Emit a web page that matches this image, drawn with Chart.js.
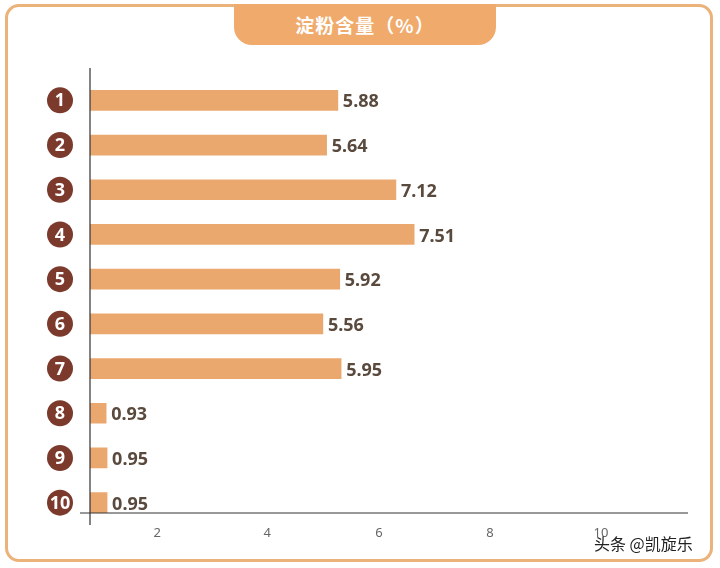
<!DOCTYPE html>
<html><head><meta charset="utf-8">
<script src="https://cdn.jsdelivr.net/npm/chart.js@4"></script>
<style>
body{margin:0;background:#fff;font-family:"Noto Sans CJK SC","Noto Sans",sans-serif;}
#wrap{position:relative;width:720px;height:568px;overflow:hidden;}
#card{position:absolute;left:5px;top:4px;width:702px;height:552px;border:3px solid #ebb27a;border-radius:14px;background:#fff;}
#tab{position:absolute;left:234px;top:4px;width:262px;height:41px;background:#f0aa6c;border-radius:0 0 18px 18px;color:#fff;font-size:19px;font-weight:bold;text-align:center;line-height:41px;letter-spacing:1px;}
#wm{position:absolute;left:594px;top:531px;font-size:16px;color:#222;}
canvas{position:absolute;left:0;top:0;}
</style></head><body>
<div id="wrap"><div id="card"></div><div id="tab">淀粉含量（%）</div>
<canvas id="c" width="720" height="568"></canvas><div id="wm">头条 @凯旋乐</div></div>
<script>
const categories=["1","2","3","4","5","6","7","8","9","10"];
const values=[5.88,5.64,7.12,7.51,5.92,5.56,5.95,0.93,0.95,0.95];
const tickLabels=["2","4","6","8","10"];
const tickPositions=[2.02,4.37,6.76,9.13,11.5];
const deco={id:'deco',afterDraw(ch){const c=ch.ctx,y=ch.scales.y,x=ch.scales.x;
c.save();c.strokeStyle='#333';c.lineWidth=1.2;c.beginPath();c.moveTo(90,68);c.lineTo(90,525);c.moveTo(80,513);c.lineTo(688,513);c.stroke();
c.fillStyle='#666';c.font='13px "Noto Sans"';c.textAlign='center';c.textBaseline='middle';
tickPositions.forEach((v,i)=>c.fillText(tickLabels[i],x.getPixelForValue(v),533));
categories.forEach((k,i)=>{const py=y.getPixelForValue(i);c.fillStyle='#7b3a2c';c.beginPath();c.arc(60,py,13,0,Math.PI*2);c.fill();
c.fillStyle='#fff';c.font='bold 18px "Noto Sans"';c.textAlign='center';c.textBaseline='middle';c.fillText(k,60,py+1);
c.fillStyle='#5a4a3e';c.textAlign='left';c.font='bold 18px "Noto Sans"';c.fillText(values[i].toFixed(2),x.getPixelForValue(values[i])+5,py+2);});
c.restore();}};
new Chart(document.getElementById('c'),{type:'bar',data:{labels:categories,datasets:[{data:values,backgroundColor:'#eba86e',barThickness:20,base:0}]},
options:{indexAxis:'y',responsive:false,animation:false,layout:{padding:{top:78,right:32,left:0,bottom:0}},
plugins:{legend:{display:false},tooltip:{enabled:false}},
scales:{y:{grid:{display:false},border:{display:false},ticks:{display:false},afterFit(s){s.width=90;}},
x:{min:0.585,max:13.36,grid:{display:false},border:{display:false},ticks:{display:false},afterFit(s){s.height=43;}}}},plugins:[deco]});
</script></body></html>
